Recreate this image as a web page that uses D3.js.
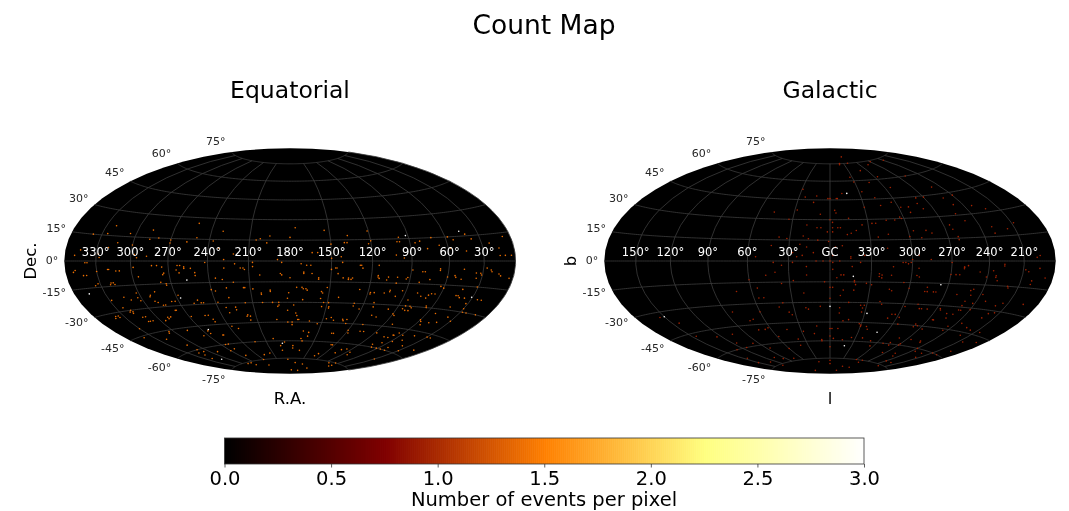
<!DOCTYPE html>
<html>
<head>
<meta charset="utf-8">
<script src="https://d3js.org/d3.v7.min.js"></script>
<style>
html, body { margin: 0; padding: 0; background: #fff; }
svg { display: block; filter: blur(0.4px); }
text { font-family: "DejaVu Sans", sans-serif; }
</style>
</head>
<body>
<svg id="chart" width="1069" height="511"></svg>
<script>
// grid and tick labels
var decTicks = [-75, -60, -45, -30, -15, 0, 15, 30, 45, 60, 75]
var raTicks = [330, 300, 270, 240, 210, 180, 150, 120, 90, 60, 30]
var lTicks = [150, 120, 90, 60, 30, 0, 330, 300, 270, 240, 210]
var cbarTicks = [0, 0.5, 1, 1.5, 2, 2.5, 3]

// afmhot stops, value range of the colour bar
var cmapValues = [0, 0.75, 1.5, 2.25, 3]
var cmapColors = ["#000000", "#800000", "#ff8000", "#ffff80", "#ffffff"]

// events as [R.A., Dec.] in degrees
var eqEvents = [
[338,15],[325,16],[305,17],[287,20],[321,21],[252,26],[231,21],[250,16],[270,14],[280,15],[287,14],[257,13],[237,14],[270,12],[300,10],[313,11],[320,8],[345,6],[350,3],[340,-1],[328,4],[327,2],[295,2],[287,3],[297,4],[261,-3],[253,-5],[242,-1],[232,9],[228,1],[221,5],[216,-5],[207,-1],[207,-4],[205,15],[202,16],[195,18],[197,13],[189,1],[186,-1],[283,-3],[279,-3],[275,-4],[298,-4],
[352,-6],[338,-1],[343,-8],[330,-6],[335,-14],[321,-14],[320,-13],[320,-5],[313,-6],[295,-10],[274,-8],[263,-3],[258,-5],[262,-8],[250,-8],[240,-20],[237,-21],[220,-2],[213,-6],[230,-13],[222,-15],[214,-19],[202,-23],[195,-22],[189,-30],[190,-33],[202,-30],[216,-30],[225,-33],[233,-33],[250,-41],[255,-38],[258,-29],[252,-29],[276,-27],[274,-15],[278,-14],[290,-26],[285,-29],[278,-33],[291,-22],[310,-24],[302,-25],[338,-32],[335,-33],[320,-31],[318,-32],[323,-28],[313,-35],[312,-38],[290,-37],[295,-39],[340,-46],[307,-47],[265,-51],[253,-53],[260,-60],[261,-64],[307,-62],[316,-64],[232,-49],[217,-39],[215,-40],[192,-43],[193,-64],[290,-76],[280,-78],[227,-71],
[172,-2],[168,-3],[165,-3],[170,-8],[164,-9],[186,-10],[180,-12],[181,-23],[171,-19],[168,-20],[156,-22],[152,-19],[159,-13],[147,-5],[145,-9],[150,-6],[142,-1],[141,-12],[137,-12],[134,-12],[129,-3],[127,-5],[115,-3],[115,-11],[114,-12],[107,-11],[100,-11],[93,-12],[82,-14],[79,-7],[89,-6],[67,-6],[60,-10],[54,-9],[47,-5],[36,-7],[32,-7],[27,-4],[22,-6],[15,-7],[4,-9],[31,-15],[24,-22],[43,-17],[37,-22],[20,-22],[44,-21],[65,-21],[70,-22],[65,-30],[60,-17],[80,-21],[78,-31],[84,-30],[79,-33],[88,-37],[103,-21],[107,-22],[118,-23],[115,-22],[111,-32],[128,-30],[122,-34],[128,-42],[132,-42],[148,-33],[153,-30],[154,-33],[170,-28],[182,-36],[175,-38],[173,-43],[178,-45],[162,-44],[154,-46],[147,-42],[103,-39],[97,-33],[82,-43],[60,-38],[49,-39],[42,-38],[37,-34],[30,-28],[24,-30],[13,-30],[70,-52],[67,-50],[67,-56],[55,-60],[70,-60],[38,-55],[15,-55],[30,-47],[133,-53],[120,-50],[107,-50],[103,-50],[167,-58],[176,-64],[187,-61],[160,-56],[133,-72],[185,-76],[165,-79],[123,-62],[103,-65],[82,-68],[67,-75],[100,-83],[170,-86],[47,-60],[60,-77],
[176,24],[180,17],[154,22],[137,18],[150,12],[121,21],[120,14],[140,13],[138,13],[122,12],[98,16],[100,13],[98,13],[86,12],[82,13],[72,15],[42,16],[58,15],[54,13],[38,13],[23,10],[8,13],[15,7],[15,3],[10,3],[4,3],[45,6],[58,8],[67,10],[77,8],[102,4],[164,6],[160,6],[150,2],[143,3],[96,2],
[350,-5],[340,-8],[332,-13],[318,-13],[317,-14],[319,-5],[310,-6],[302,-20],[303,-23],[328,-23],[315,-22],[286,-20],[274,-16],[275,-9],[264,-6],[258,-4],[250,-10],[235,-12],[228,-19],[215,-19],[208,-20],[202,-24],[195,-21],[194,-30],[189,-32],[225,-35],[228,-26],[238,-29],[250,-29],[254,-27],[273,-27],[268,-23],[288,-27],[283,-29],[277,-33],[292,-23],[317,-31],[318,-30],[335,-32],[340,-33],[310,-38],[307,-38],[310,-35],[290,-38],[287,-37],[268,-38],[252,-38],[250,-43],[232,-37],[218,-40],[216,-43],[237,-47],[254,-53],[265,-49],[275,-52],[285,-47],[305,-46],[330,-41],[320,-50],[310,-56],[264,-60],[270,-65],[224,-60],[200,-58],[215,-70],[192,-68],[317,-62],[310,-60],[320,-67],[260,-70],[280,-76],[240,-75],[290,-64],[250,-80],[182,-45],[182,-27],[214,-5],[202,-10],[187,-9],[228,-5],
[170,-9],[159,-12],[146,-5],[137,-13],[135,-13],[128,-3],[115,-10],[108,-13],[100,-15],[92,-11],[81,-7],[74,-12],[67,-5],[53,-10],[48,-11],[35,-10],[31,-8],[23,-5],[13,-8],[175,-19],[170,-20],[167,-21],[155,-23],[156,-27],[149,-30],[148,-34],[142,-26],[128,-32],[127,-20],[118,-22],[112,-29],[103,-20],[97,-24],[93,-20],[85,-26],[76,-23],[68,-21],[71,-24],[63,-16],[46,-21],[42,-22],[32,-25],[177,-32],[174,-40],[172,-43],[178,-47],[166,-52],[160,-53],[143,-41],[140,-43],[131,-43],[127,-45],[108,-38],[90,-36],[85,-32],[82,-33],[80,-30],[66,-29],[52,-33],[44,-28],[28,-30],[58,-39],[65,-48],[68,-50],[58,-49],[50,-52],[75,-52],[88,-50],[135,-53],[125,-62],[118,-52],[110,-45],[165,-60],[176,-66],[165,-68],[130,-70],[105,-68],[97,-64],[85,-66],[75,-58],[62,-60],[58,-54],[50,-58],[30,-58],[45,-48],[55,-41],[25,-47],[30,-36],[140,-80],[80,-76],[60,-78],[30,-66],[120,-86]
]
// the few brighter pixels on the left map
var eqBright = [[257,-13],[267,-25],[345,-18],[263,-48],[310,-69],[31,-21],[92,17],[46,18],[190,-62]]

// events as [l, b] in degrees
var galEvents = [
[320,81],[339,75],[321,75],[333,63],[311,68],[331,59],[327,51],[313,58],[296,62],[294,53],[260,60],[278,44],[270,44],[250,50],[252,42],[240,43],[249,37],[233,35],[223,32],[348,50],[353,46],[2,46],[330,39],[317,46],[315,40],[304,42],[298,38],[291,38],[281,40],[292,34],[302,30],[303,31],[279,36],[254,31],[250,26],[230,21],[230,17],[208,22],[217,19],[265,24],[264,21],[262,16],[262,14],[282,19],[286,21],[291,16],[296,21],[300,17],[308,29],[315,29],[324,27],[327,27],[335,26],[340,22],[344,20],[352,24],[354,24],[358,21],[345,31],[356,37],[347,19],[356,10],[351,11],[345,3],[335,4],[318,9],[240,73],[270,74],[285,72],[355,35],[7,24],[0,30],[324,17],[316,19],[305,-1],[301,-1],[295,4],[286,1],[260,-4],[227,-3],[198,2],[195,3],
[29,53],[13,48],[15,43],[24,47],[0,46],[354,46],[47,35],[28,37],[33,30],[8,34],[358,28],[340,74],[18,26],[10,24],[2,21],[358,24],[38,17],[32,16],[20,18],[16,16],[9,15],[1,14],[43,11],[22,12],[17,10],[12,6],[27,6],[54,3],[24,3],[20,4],[358,4],
[41,-1],[40,-8],[35,-3],[27,-1],[17,-4],[10,0],[5,0],[358,-1],[358,-6],[17,-10],[47,-10],[55,-19],[72,-21],[60,-13],[52,-26],[56,-26],[60,-36],[36,-16],[27,-14],[20,-23],[42,-33],[38,-30],[35,-37],[33,-39],[20,-34],[18,-35],[8,-33],[0,-27],[358,-19],[84,-35],[70,-41],[74,-42],[155,-33],[143,-38],[145,-47],[125,-50],[105,-50],[73,-49],[66,-49],[62,-48],[44,-50],[28,-52],[13,-48],[17,-54],[0,-50],[0,-56],[10,-60],[97,-58],[113,-60],[115,-56],[130,-60],[145,-66],[150,-70],[130,-72],[85,-63],[58,-55],[105,-70],[95,-72],[130,-76],[60,-65],[40,-63],[75,-73],[100,-85],[30,-78],[0,-80],[345,-59],[352,-38],[38,-58],
[0,0],[353,0],[345,2],[338,-1],[344,-4],[342,-14],[341,-17],[350,-10],[355,-12],[0,-19],[4,-15],[324,-9],[322,-12],[315,-10],[313,-21],[300,-19],[307,-1],[303,-2],[300,1],[294,-11],[285,-21],[278,-21],[270,-9],[270,-1],[260,-5],[257,-3],[263,-9],[247,-7],[233,-9],[231,-12],[227,-2],[236,-6],[248,-18],[260,-22],[250,-26],[238,-21],[232,-25],[220,-15],[205,-6],[195,-4],[200,-11],[188,-9],[333,-34],[332,-32],[324,-48],[330,-47],[335,-57],[358,-50],[348,-44],[320,-29],[308,-41],[298,-40],[278,-44],[275,-45],[285,-33],[278,-33],[265,-40],[267,-47],[267,-32],[245,-43],[235,-40],[250,-29],[250,-32],[242,-27],[215,-31],[205,-43],[220,-47],[195,-56],[250,-56],[265,-55],[280,-55],[270,-59],[282,-61],[292,-60],[305,-63],[322,-57],[0,-65],[10,-59],[300,-75],[285,-77],[310,-82],[0,-77],[310,-86],[225,-76],[250,-68],[240,-72],[215,-65],[222,-62],[200,-60],[303,-38],[252,-35],[255,-38],[220,-27],[345,-30],[352,-25],
[352,-10],[342,-15],[333,-16],[324,-11],[322,-10],[314,-4],[329,-17],[350,-21],[342,-21],[315,-20],[305,-15],[296,-10],[295,-5],[286,-18],[287,-21],[280,-21],[266,-9],[260,-4],[250,-19],[248,-22],[241,-10],[233,-10],[219,-16],[208,-5],[200,-13],[195,-24],[215,-25],[220,-32],[240,-31],[248,-32],[258,-35],[266,-33],[283,-33],[288,-30],[298,-32],[306,-38],[318,-31],[335,-32],[333,-37],[330,-48],[332,-46],[352,-34],[343,-43],[322,-50],[295,-45],[278,-46],[266,-40],[245,-46],[225,-42],[218,-43],[222,-35],[252,-55],[270,-60],[284,-59],[310,-59],[352,-50],[356,-58],[240,-60],[210,-60],[205,-50],[190,-48],[275,-67],[285,-75],[280,-82],[255,-66],[225,-72],[235,-62]
]
var galBright = [[343,50],[343,-11],[328,-38],[0,-33],[310,-52],[340,-64],[150,-33],[276,-16]]

// levels the two maps show their single events at, after the pixel blur
var eqLevel = 1.4
var galLevel = 0.95
var brightLevel = 3

var svg = d3.select("#chart")

var color = d3.scaleLinear().domain(cmapValues).range(cmapColors).clamp(true)

// Hammer projection, same one as the matplotlib axes
function hammerRaw(lam, phi) {
    var cphi = Math.cos(phi)
    var d = Math.sqrt(1 + cphi * Math.cos(lam / 2))
    return [2 * Math.SQRT2 * cphi * Math.sin(lam / 2) / d, Math.SQRT2 * Math.sin(phi) / d]
}

svg.append("text").attr("x", 544).attr("y", 34).attr("text-anchor", "middle")
    .attr("font-size", 26.5).attr("fill", "#000").text("Count Map")

function drawMap(opts) {
    var projection = d3.geoProjection(hammerRaw)
        .scale(79.8)
        .translate([opts.cx, 261])
        .rotate(opts.rotate)
        .reflectX(true)
        .precision(0.3)
    var path = d3.geoPath(projection)
    var g = svg.append("g")

    g.append("path").datum({ type: "Sphere" }).attr("d", path).attr("fill", "#000")

    // meridians stop at +-75, parallels go all the way round
    var grat = d3.geoGraticule()
        .extent([[-180, -75], [180, 75.001]])
        .step([30, 15])
        .stepMinor([30, 15])
        .stepMajor([30, 15])
        .precision(2)
    g.selectAll(".grid").data(grat.lines().filter(function (d) {
        return Math.abs(d.coordinates[0][0] - d.coordinates[1][0]) > 0.0001 || Math.abs(d.coordinates[0][0]) < 179.9
    })).enter().append("path")
        .attr("class", "grid")
        .attr("d", path)
        .attr("fill", "none")
        .attr("stroke", "#3c3c3c")
        .attr("stroke-width", 0.8)

    g.selectAll(".ev").data(opts.events).enter().append("circle")
        .attr("class", "ev")
        .attr("cx", function (d) { return projection(d)[0] })
        .attr("cy", function (d) { return projection(d)[1] })
        .attr("r", 0.8)
        .attr("fill", color(opts.level))

    g.selectAll(".hot").data(opts.bright).enter().append("circle")
        .attr("class", "hot")
        .attr("cx", function (d) { return projection(d)[0] })
        .attr("cy", function (d) { return projection(d)[1] })
        .attr("r", 0.8)
        .attr("fill", color(brightLevel))

    // longitude labels sit just above the equator
    g.selectAll(".lon").data(opts.lonTicks).enter().append("text")
        .attr("class", "lon")
        .attr("x", function (d) { return projection([d, 0])[0] })
        .attr("y", 252)
        .attr("dy", "0.36em")
        .attr("text-anchor", "middle")
        .attr("font-size", 11.5)
        .attr("fill", "#fff")
        .text(function (d) { return opts.lonLabel(d) })

    // latitude labels follow the left edge
    g.selectAll(".lat").data(decTicks).enter().append("text")
        .attr("class", "lat")
        .attr("x", function (d) { return opts.cx - hammerRaw(Math.PI, d * Math.PI / 180)[0] * 79.8 - 6 })
        .attr("y", function (d) {
            return 261 - hammerRaw(Math.PI, d * Math.PI / 180)[1] * 79.8 - 1 - 10 * Math.sin(d * 1.2 * Math.PI / 180)
        })
        .attr("dy", "0.36em")
        .attr("text-anchor", "end")
        .attr("font-size", 11)
        .attr("fill", "#262626")
        .text(function (d) { return d + "°" })

    g.append("text").attr("x", opts.cx).attr("y", 98).attr("text-anchor", "middle")
        .attr("font-size", 23.5).attr("fill", "#000").text(opts.title)
    g.append("text").attr("x", opts.cx).attr("y", 404).attr("text-anchor", "middle")
        .attr("font-size", 16.5).attr("fill", "#000").text(opts.xlabel)
    g.append("text")
        .attr("transform", "translate(" + (opts.cx - 254) + ",261) rotate(-90)")
        .attr("text-anchor", "middle")
        .attr("font-size", 16.5).attr("fill", "#000").text(opts.ylabel)
}

drawMap({
    cx: 290, rotate: [-180, 0], events: eqEvents, bright: eqBright, level: eqLevel,
    lonTicks: raTicks, lonLabel: function (d) { return d + "°" },
    title: "Equatorial", xlabel: "R.A.", ylabel: "Dec."
})
drawMap({
    cx: 830, rotate: [0, 0], events: galEvents, bright: galBright, level: galLevel,
    lonTicks: lTicks, lonLabel: function (d) { return d === 0 ? "GC" : d + "°" },
    title: "Galactic", xlabel: "l", ylabel: "b"
})

// colour bar
var cbarX = d3.scaleLinear().domain([0, 3]).range([224.5, 864])
var cbar = svg.append("g")
var cbarCells = d3.range(0, 320).map(function (i) { return i * 3 / 320 })
cbar.selectAll("rect").data(cbarCells).enter().append("rect")
    .attr("x", function (d) { return cbarX(d) })
    .attr("y", 438)
    .attr("width", (cbarX(3) - cbarX(0)) / 320 + 0.6)
    .attr("height", 26)
    .attr("fill", function (d) { return color(d) })
cbar.append("rect").attr("x", 224.5).attr("y", 438).attr("width", 639.5).attr("height", 26)
    .attr("fill", "none").attr("stroke", "#333").attr("stroke-width", 0.8)

var cbarAxis = d3.axisBottom(cbarX).tickValues(cbarTicks).tickSize(3.5).tickPadding(3.5)
    .tickFormat(d3.format(".1f"))
var axisG = svg.append("g").attr("transform", "translate(0,464)").call(cbarAxis)
axisG.select(".domain").remove()
axisG.selectAll("text").attr("font-size", 19.5).attr("font-family", "DejaVu Sans").attr("fill", "#000")
axisG.selectAll("line").attr("stroke", "#333").attr("stroke-width", 0.8)

svg.append("text").attr("x", 544).attr("y", 506).attr("text-anchor", "middle")
    .attr("font-size", 19.5).attr("fill", "#000").text("Number of events per pixel")
</script>
</body>
</html>
